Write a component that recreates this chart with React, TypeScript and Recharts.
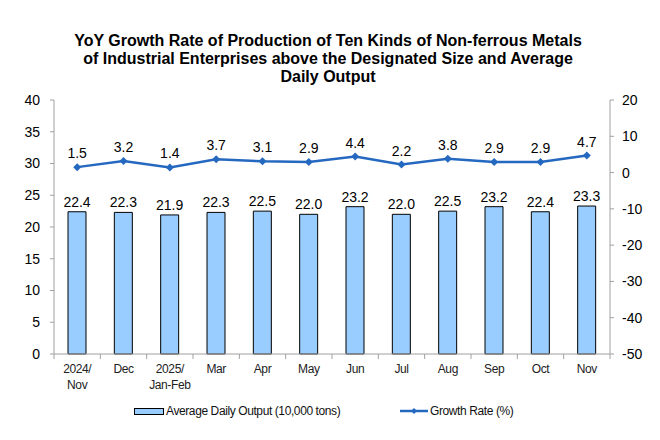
import React from 'react';
import { ComposedChart, Bar, Line, XAxis, YAxis, LabelList } from 'recharts';

const months = ['2024/\nNov', 'Dec', '2025/\nJan-Feb', 'Mar', 'Apr', 'May', 'Jun', 'Jul', 'Aug', 'Sep', 'Oct', 'Nov'];
const dailyOutput = [22.4, 22.3, 21.9, 22.3, 22.5, 22.0, 23.2, 22.0, 22.5, 23.2, 22.4, 23.3];
const growthRate = [1.5, 3.2, 1.4, 3.7, 3.1, 2.9, 4.4, 2.2, 3.8, 2.9, 2.9, 4.7];
const leftTicks = [0, 5, 10, 15, 20, 25, 30, 35, 40];
const rightTicks = [-50, -40, -30, -20, -10, 0, 10, 20];

const data = months.map((m, i) => ({ month: m, output: dailyOutput[i], growth: growthRate[i] }));

const FONT = '"Liberation Sans", Arial, sans-serif';
const LINE_COLOR = '#2468c0';
const AXIS_COLOR = '#a0a0a0';

const MonthTick = (props: any) => {
  const { x, y, payload, index } = props;
  const band = 556 / months.length;
  const lines = String(payload.value).split('\n');
  return (
    <g>
      <line x1={x - band / 2} y1={y - 8} x2={x - band / 2} y2={y - 3} stroke={AXIS_COLOR} />
      {index === months.length - 1 && (
        <line x1={x + band / 2} y1={y - 8} x2={x + band / 2} y2={y - 3} stroke={AXIS_COLOR} />
      )}
      <text x={x} y={y + 11} textAnchor="middle" fontSize={12} fill="#222" fontFamily={FONT} style={{ letterSpacing: '-0.4px' }}>
        {lines.map((l, i) => (
          <tspan key={i} x={x} dy={i === 0 ? 0 : 16}>
            {l}
          </tspan>
        ))}
      </text>
    </g>
  );
};

const Diamond = (props: any) => {
  const { cx, cy } = props;
  if (cx == null || cy == null) return null;
  return <path d={`M${cx},${cy - 4}L${cx + 4},${cy}L${cx},${cy + 4}L${cx - 4},${cy}Z`} fill={LINE_COLOR} />;
};

export default function App() {
  return (
    <div style={{ position: 'absolute', left: 0, top: 0, width: 660, height: 440, background: '#fff', fontFamily: FONT }}>
      <div
        style={{
          position: 'absolute',
          top: 32,
          left: 0,
          width: 656,
          textAlign: 'center',
          fontWeight: 'bold',
          fontSize: 16,
          lineHeight: '18px',
          color: '#000',
        }}
      >
        YoY Growth Rate of Production of Ten Kinds of Non-ferrous Metals
        <br />
        of Industrial Enterprises above the Designated Size and Average
        <br />
        Daily Output
      </div>
      <ComposedChart width={660} height={440} data={data} margin={{ top: 100, right: 0, bottom: 0, left: 0 }}>
        <XAxis dataKey="month" interval={0} height={86} tick={<MonthTick />} tickLine={false} axisLine={{ stroke: AXIS_COLOR }} />
        <YAxis
          yAxisId="left"
          domain={[0, 40]}
          ticks={leftTicks}
          width={54}
          tickSize={4}
          tickMargin={10}
          tickLine={{ stroke: AXIS_COLOR }}
          axisLine={{ stroke: AXIS_COLOR }}
          tick={{ fontSize: 14, fill: '#000', fontFamily: FONT }}
        />
        <YAxis
          yAxisId="right"
          orientation="right"
          domain={[-50, 20]}
          ticks={rightTicks}
          width={50}
          tickSize={4}
          tickMargin={8}
          tickLine={{ stroke: AXIS_COLOR }}
          axisLine={{ stroke: AXIS_COLOR }}
          tick={{ fontSize: 14, fill: '#000', fontFamily: FONT }}
        />
        <Bar yAxisId="left" dataKey="output" fill="#99ccff" stroke="#000" strokeWidth={1} barSize={18} isAnimationActive={false}>
          <LabelList dataKey="output" position="top" offset={5} fontSize={14} fill="#000" fontFamily={FONT} formatter={(v: any) => Number(v).toFixed(1)} />
        </Bar>
        <Line
          yAxisId="right"
          dataKey="growth"
          stroke={LINE_COLOR}
          strokeWidth={2.5}
          dot={<Diamond />}
          activeDot={false}
          isAnimationActive={false}
        >
          <LabelList dataKey="growth" position="top" offset={9} fontSize={14} fill="#000" fontFamily={FONT} formatter={(v: any) => Number(v).toFixed(1)} />
        </Line>
      </ComposedChart>
      <div style={{ position: 'absolute', top: 404, left: 134, display: 'flex', alignItems: 'center', fontSize: 12, color: '#111', letterSpacing: '-0.4px' }}>
        <span style={{ display: 'inline-block', width: 28, height: 5, background: '#99ccff', border: '1px solid #000', marginRight: 2 }} />
        Average Daily Output (10,000 tons)
      </div>
      <div style={{ position: 'absolute', top: 404, left: 400, display: 'flex', alignItems: 'center', fontSize: 12, color: '#111', letterSpacing: '-0.4px' }}>
        <svg width={28} height={10} style={{ marginRight: 2 }}>
          <line x1={0} y1={5} x2={28} y2={5} stroke={LINE_COLOR} strokeWidth={2.5} />
          <path d="M14,2L17,5L14,8L11,5Z" fill={LINE_COLOR} />
        </svg>
        Growth Rate (%)
      </div>
    </div>
  );
}
